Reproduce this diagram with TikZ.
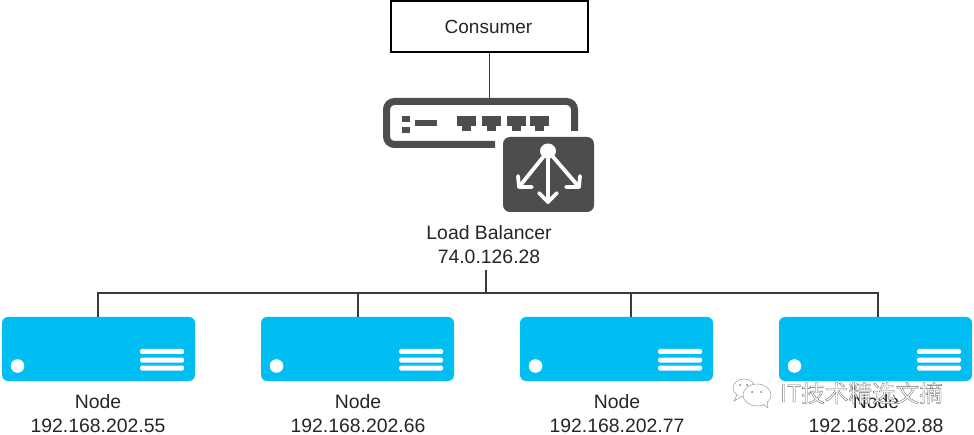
\documentclass[tikz,border=0pt]{standalone}
\usepackage{fontspec}
\setmainfont{Liberation Sans}
\newfontfamily\cjk{Noto Sans CJK SC}
\definecolor{nodeblue}{HTML}{00BDF2}
\definecolor{darkgrey}{HTML}{4D4D4D}
\definecolor{linegrey}{HTML}{3A3A3A}
\tikzset{
  wire/.style={draw=linegrey,line width=1.8pt},
  serverbody/.style={fill=nodeblue,draw=none,rounded corners=6pt},
  labeltext/.style={font=\fontsize{19.4}{23}\selectfont,text=black!85,inner sep=0pt,align=center},
  consumerbox/.style={draw=black,line width=1.2pt,fill=white,minimum width=197pt,minimum height=51pt,inner sep=0pt,font=\fontsize{19}{23}\selectfont,text=black!85},
  grip/.style={fill=white,rounded corners=1.5pt,draw=none},
  swline/.style={draw=darkgrey,line width=7pt},
  swfill/.style={fill=darkgrey,draw=none},
  lbarrow/.style={draw=white,line width=3.8pt,line cap=round,line join=round},
  bubble/.style={draw=black!40,line width=0.5pt,fill=white},
}
\newcommand{\servernode}[3]{%
  \fill[serverbody] (#1,317) rectangle ++(193,64);
  \coordinate (#2) at (#3,317);
  \fill[white] (#1+15.5,366) circle (6.8);
  \fill[grip] (#1+138,349) rectangle ++(44,5);
  \fill[grip] (#1+138,357.5) rectangle ++(44,5);
  \fill[grip] (#1+138,365.5) rectangle ++(44,5);
}
\begin{document}
\begin{tikzpicture}[x=1pt,y=-1pt]
\useasboundingbox (0,0) rectangle (974,435);
\fill[white] (0,0) rectangle (974,435);
% consumer
\node[consumerbox] (consumer) at (489.5,26.5) {\kern-2pt Consumer};
% switch
\coordinate (swtop) at (489.5,98);
\draw[wire] (consumer.south) -- (swtop);
\draw[swline,rounded corners=8pt] (574.5,131) -- (574.5,101.5) -- (386.5,101.5) -- (386.5,144.5) -- (495,144.5);
\fill[swfill] (402,116) rectangle (410,122);
\fill[swfill] (402,127) rectangle (410,133);
\fill[swfill] (415,120) rectangle (437,126);
\foreach \px in {457,482,507,530}{
  \fill[swfill] (\px,116) rectangle ++(18.5,10);
  \fill[swfill] (\px+5,126) rectangle ++(8.5,5);
}
% balancer badge
\fill[darkgrey,rounded corners=7pt] (503,137) rectangle (594,212);
\coordinate (hub) at (548,151);
\coordinate (tipL) at (519,187);
\coordinate (tipM) at (548,202);
\coordinate (tipR) at (579,187);
\fill[white] (hub) ellipse (8 and 7.5);
\draw[lbarrow] (hub) -- (tipM);
\draw[lbarrow] (hub) -- (tipL);
\draw[lbarrow] (hub) -- (tipR);
\draw[lbarrow] (539,193) -- (tipM) -- (557,193);
\draw[lbarrow] (518,176) -- (tipL) -- (532,187);
\draw[lbarrow] (580,176) -- (tipR) -- (566,187);
% balancer label
\node[labeltext] (lb) at (489,245) {Load Balancer\\[1pt]74.0.126.28};
% servers
\servernode{2}{n1}{98}
\servernode{261}{n2}{358}
\servernode{520}{n3}{631}
\servernode{779}{n4}{878}
\coordinate (bus) at (486,293);
\coordinate (lbfoot) at (486,270);
\coordinate (b2) at (358,293);
\coordinate (b3) at (631,293);
\draw[wire] (n1) |- (bus);
\draw[wire] (n4) |- (bus);
\draw[wire] (n2) -- (b2);
\draw[wire] (n3) -- (b3);
\draw[wire] (lbfoot) -- (bus);
% labels
\node[labeltext] (l1) at (98,413.5) {Node\\[1pt]192.168.202.55};
\node[labeltext] (l2) at (358,413.5) {Node\\[1pt]192.168.202.66};
\node[labeltext] (l3) at (617,413.5) {Node\\[1pt]192.168.202.77};
\node[labeltext] (l4) at (876,413.5) {Node\\[1pt]192.168.202.88};
% watermark
\draw[bubble] (744,388) ellipse (11 and 9);
\draw[bubble] (737,395) -- (734,401) -- (741,397);
\draw[bubble] (757,395) ellipse (14 and 11);
\draw[bubble] (763,404) -- (768,408) -- (767,402);
\fill[black!50] (740,385) circle (1) (747,385) circle (1) (752,392) circle (1) (761,392) circle (1);
\node[inner sep=0pt,anchor=west] (wm) at (780,393) {\fontsize{23.6}{28}\selectfont\special{pdf:code q 2 Tr 0.35 w 0.4 G 1 g}\cjk IT技术精选文摘\special{pdf:code Q}};
\end{tikzpicture}
\end{document}
